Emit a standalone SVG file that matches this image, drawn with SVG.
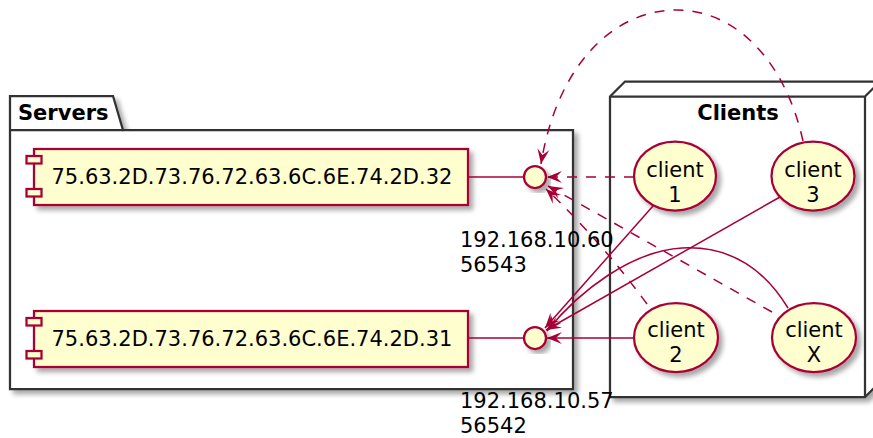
<svg xmlns="http://www.w3.org/2000/svg" width="873" height="438" viewBox="0 0 873 438">
<style>
text{font-family:"DejaVu Sans","Liberation Sans",sans-serif;font-size:21px;fill:#000}
.b{font-weight:bold}
.frame{fill:#fff;stroke:#333;stroke-width:2.25}
.comp{fill:#FEFECE;stroke:#A80036;stroke-width:2.25}
.ln{fill:none;stroke:#A80036;stroke-width:1.5}
.d{stroke-dasharray:10,9}
</style>
<defs>
<filter id="sh" x="-10%" y="-10%" width="130%" height="130%">
<feGaussianBlur in="SourceAlpha" stdDeviation="2.5"/>
<feOffset dx="4" dy="4" result="o"/>
<feComponentTransfer><feFuncA type="linear" slope="0.35"/></feComponentTransfer>
<feMerge><feMergeNode/><feMergeNode in="SourceGraphic"/></feMerge>
</filter>
<marker id="ah" markerUnits="userSpaceOnUse" markerWidth="20" markerHeight="20" refX="0" refY="0" orient="auto" overflow="visible">
<path d="M0,0 L-15,-6 L-9,0 L-15,6 Z" fill="#A80036" stroke="none"/>
</marker>
</defs>

<g id="Servers">
<path class="frame" filter="url(#sh)" d="M10,96 H113 L123,130 H573 V389 H10 Z"/>
<line x1="10" y1="130" x2="123" y2="130" stroke="#333" stroke-width="2.25"/>
<text class="b" x="18" y="120">Servers</text>
</g>

<g id="Clients">
<path class="frame" filter="url(#sh)" d="M610,96.5 L625,81.5 H880 V382 L865,397 H610 Z"/>
<path fill="none" stroke="#333" stroke-width="2.25" d="M610,96.5 H865 V397 M865,96.5 L880,81.5"/>
<text class="b" x="738" y="120" text-anchor="middle">Clients</text>
</g>

<g id="comp32">
<rect class="comp" filter="url(#sh)" x="34" y="149" width="434" height="56"/>
<rect class="comp" x="26.5" y="156" width="15" height="7.5"/>
<rect class="comp" x="26.5" y="189" width="15" height="7.5"/>
<text x="51.5" y="184">75.63.2D.73.76.72.63.6C.6E.74.2D.32</text>
</g>

<g id="comp31">
<rect class="comp" filter="url(#sh)" x="34" y="311" width="434" height="56"/>
<rect class="comp" x="26.5" y="318" width="15" height="7.5"/>
<rect class="comp" x="26.5" y="351" width="15" height="7.5"/>
<text x="51.5" y="346">75.63.2D.73.76.72.63.6C.6E.74.2D.31</text>
</g>

<g id="connectors">
<line class="ln" x1="468" y1="177" x2="524" y2="177"/>
<line class="ln" x1="468" y1="338" x2="524" y2="338"/>
<line class="ln d" x1="634" y1="177" x2="547" y2="177" marker-end="url(#ah)"/>
<path class="ln d" d="M803,141 C785,60 735,10 677,10 C610,10 556,70 541,164" marker-end="url(#ah)"/>
<path class="ln d" d="M647,304 Q600,240 546,189" marker-end="url(#ah)"/>
<line class="ln d" x1="772" y1="312" x2="548" y2="186" marker-end="url(#ah)"/>
<line class="ln" x1="653" y1="206" x2="545" y2="328" marker-end="url(#ah)"/>
<line class="ln" x1="780" y1="197" x2="546" y2="330" marker-end="url(#ah)"/>
<line class="ln" x1="634" y1="338" x2="547" y2="338" marker-end="url(#ah)"/>
<path class="ln" d="M788,308 C760,262 722,246 682,248 C632,251 580,290 547,331" marker-end="url(#ah)"/>
</g>

<g id="if60">
<circle class="comp" filter="url(#sh)" cx="535" cy="177" r="11"/>
<text x="460" y="247">192.168.10.60</text>
<text x="460" y="272">56543</text>
</g>

<g id="if57">
<circle class="comp" filter="url(#sh)" cx="535" cy="338" r="11"/>
<text x="460" y="408">192.168.10.57</text>
<text x="460" y="433">56542</text>
</g>

<g id="client1">
<ellipse class="comp" filter="url(#sh)" cx="675" cy="176" rx="41" ry="34.5"/>
<text x="675" y="177" text-anchor="middle">client</text>
<text x="675" y="202" text-anchor="middle">1</text>
</g>
<g id="client3">
<ellipse class="comp" filter="url(#sh)" cx="813" cy="176" rx="41.5" ry="34.5"/>
<text x="813" y="177" text-anchor="middle">client</text>
<text x="813" y="202" text-anchor="middle">3</text>
</g>
<g id="client2">
<ellipse class="comp" filter="url(#sh)" cx="676" cy="337.5" rx="42" ry="34.5"/>
<text x="676" y="337" text-anchor="middle">client</text>
<text x="676" y="362" text-anchor="middle">2</text>
</g>
<g id="clientX">
<ellipse class="comp" filter="url(#sh)" cx="814" cy="337.5" rx="42" ry="34.5"/>
<text x="814" y="337" text-anchor="middle">client</text>
<text x="814" y="362" text-anchor="middle">X</text>
</g>
</svg>
